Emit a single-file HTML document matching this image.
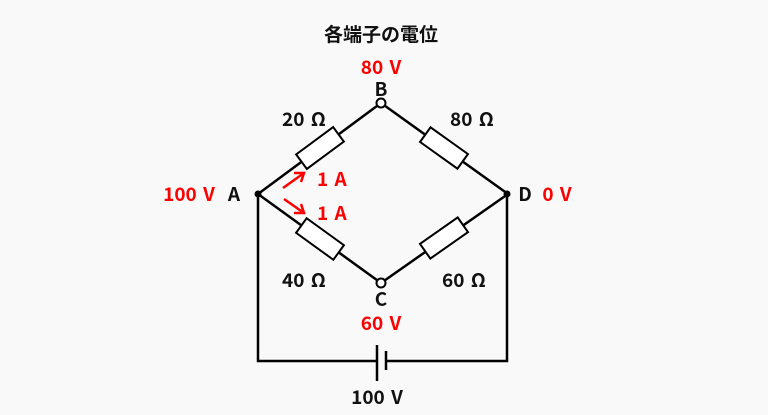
<!DOCTYPE html>
<html><head><meta charset="utf-8"><style>
html,body{margin:0;padding:0;background:#f9f9f9;}
svg{display:block;}
text{font-family:"Noto Sans CJK JP","Liberation Sans",sans-serif;font-size:19px;font-weight:700;}
</style></head><body>
<svg width="768" height="415" viewBox="0 0 768 415" xmlns="http://www.w3.org/2000/svg">
<rect width="768" height="415" fill="#f9f9f9"/>
<text x="381" y="41" text-anchor="middle" font-size="18" fill="#111">各端子の電位</text>
<g stroke="#000" stroke-width="2.5" fill="none">
<line x1="258" y1="194" x2="381" y2="103"/>
<line x1="381" y1="103" x2="508" y2="194"/>
<line x1="258" y1="194" x2="381" y2="283"/>
<line x1="381" y1="283" x2="508" y2="194"/>
<polyline points="258,194 258,361 377,361"/>
<polyline points="386,361 507,361 507,194"/>
<line x1="377" y1="345" x2="377" y2="381"/>
<line x1="386" y1="351" x2="386" y2="370"/>
</g>
<g stroke="#000" stroke-width="2" fill="#fff">
<rect x="-23" y="-9" width="46" height="18" transform="translate(320,148) rotate(-36.5)"/>
<rect x="-23" y="-9" width="46" height="18" transform="translate(444,148) rotate(35.6)"/>
<rect x="-23" y="-9" width="46" height="18" transform="translate(320,239) rotate(35.9)"/>
<rect x="-23" y="-9" width="46" height="18" transform="translate(444,238) rotate(-35)"/>
<circle cx="381" cy="103" r="4.5"/>
<circle cx="381" cy="283" r="4.5"/>
</g>
<circle cx="258" cy="194" r="3.5" fill="#000"/>
<circle cx="507" cy="194" r="3.5" fill="#000"/>
<g stroke="#f00" stroke-width="2.5" fill="none">
<line x1="283" y1="188" x2="304" y2="173"/>
<polyline points="294,173 304,173 301,182"/>
<line x1="284" y1="199" x2="304" y2="213"/>
<polyline points="301,204 304,213 294,213"/>
</g>
<g fill="#f00">
<text x="381" y="74" text-anchor="middle" word-spacing="2">80 V</text>
<text x="189" y="201" text-anchor="middle" word-spacing="2">100 V</text>
<text x="557" y="201" text-anchor="middle" word-spacing="2">0 V</text>
<text x="381" y="330" text-anchor="middle" word-spacing="2">60 V</text>
<text x="317" y="186" word-spacing="2">1 A</text>
<text x="317" y="220" word-spacing="2">1 A</text>
</g>
<g fill="#111">
<text x="381" y="96" text-anchor="middle">B</text>
<text x="234" y="201" text-anchor="middle">A</text>
<text x="525" y="201" text-anchor="middle">D</text>
<text x="381" y="306" text-anchor="middle">C</text>
<text x="304" y="126" text-anchor="middle" word-spacing="2">20 Ω</text>
<text x="472" y="126" text-anchor="middle" word-spacing="2">80 Ω</text>
<text x="304" y="287" text-anchor="middle" word-spacing="2">40 Ω</text>
<text x="464" y="287" text-anchor="middle" word-spacing="2">60 Ω</text>
<text x="377" y="404" text-anchor="middle" word-spacing="2">100 V</text>
</g>
</svg>
</body></html>
